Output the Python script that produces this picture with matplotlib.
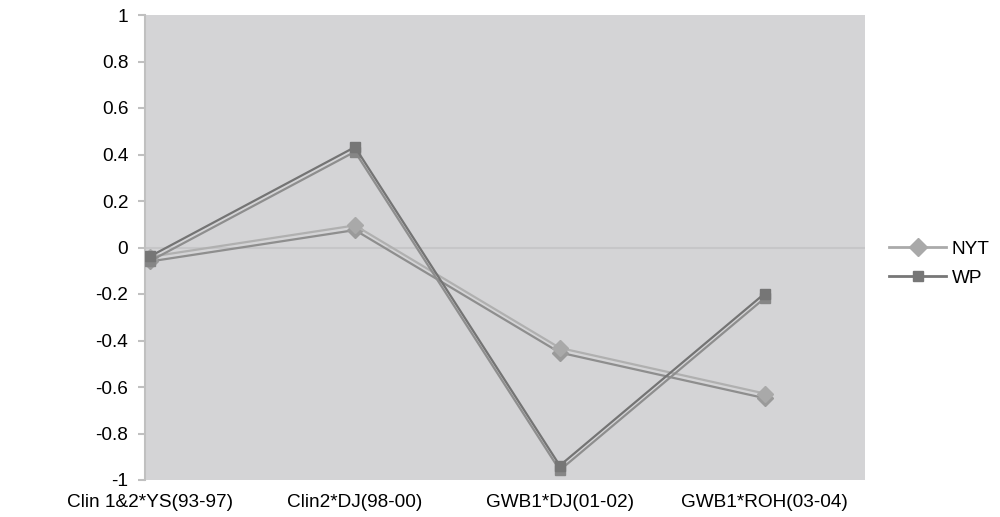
import numpy as np
import matplotlib.pyplot as plt
from matplotlib.lines import Line2D

plt.rcParams['font.family'] = ['Liberation Sans', 'DejaVu Sans']

periods = ["Clin 1&2*YS(93-97)", "Clin2*DJ(98-00)", "GWB1*DJ(01-02)", "GWB1*ROH(03-04)"]
# each paper is drawn as a pair of close lines (upper / lower edge)
nyt_upper = [-0.04, 0.095, -0.432, -0.628]
nyt_lower = [-0.06, 0.075, -0.452, -0.648]
wp_upper = [-0.038, 0.432, -0.938, -0.198]
wp_lower = [-0.058, 0.412, -0.958, -0.218]
yticks = [-1, -0.8, -0.6, -0.4, -0.2, 0, 0.2, 0.4, 0.6, 0.8, 1]

fig = plt.figure(figsize=(10, 5.17), dpi=100)
ax = fig.add_axes([0.145, 1 - 480 / 517, 0.72, 465 / 517])
ax.set_facecolor("#d4d4d6")

x = np.arange(len(periods))
ax.axhline(0, color="#c6c6c8", lw=1.5, zorder=1)

ax.plot(x, nyt_upper, color="#b0b0b0", lw=1.6, marker="D", ms=8, mfc="#a9a9a9", mec="#a9a9a9", zorder=3)
ax.plot(x, nyt_lower, color="#8e8e8e", lw=1.6, marker="D", ms=8, mfc="#9a9a9a", mec="#9a9a9a", zorder=2)
ax.plot(x, wp_upper, color="#747474", lw=1.6, marker="s", ms=7, mfc="#767676", mec="#767676", zorder=4)
ax.plot(x, wp_lower, color="#8e8e8e", lw=1.6, marker="s", ms=7, mfc="#868686", mec="#868686", zorder=3)

ax.set_xlim(-0.025, 3.49)
ax.set_ylim(-1, 1)
ax.set_yticks(yticks)
ax.set_yticklabels([f"{v:g}" for v in yticks])
ax.set_xticks(x)
ax.set_xticklabels(periods)
ax.tick_params(axis="y", length=5, width=1.5, color="#c0c0c0", labelsize=13.7, pad=7)
ax.tick_params(axis="x", length=0, labelsize=13.7, pad=10)
for side in ["top", "right", "bottom"]:
    ax.spines[side].set_visible(False)
ax.spines["left"].set_color("#c0c0c0")
ax.spines["left"].set_linewidth(1.5)

handles = [
    Line2D([], [], color="#aaaaaa", lw=2, marker="D", ms=9, mfc="#a9a9a9", mec="#a9a9a9"),
    Line2D([], [], color="#777777", lw=2, marker="s", ms=7, mfc="#777777", mec="#777777"),
]
fig.legend(handles, ["NYT", "WP"], loc="center left", bbox_to_anchor=(0.872, 0.49),
           frameon=False, fontsize=13.7, handlelength=3.0, handletextpad=0.3, labelspacing=0.6)

fig.savefig("out.png", dpi=100)
